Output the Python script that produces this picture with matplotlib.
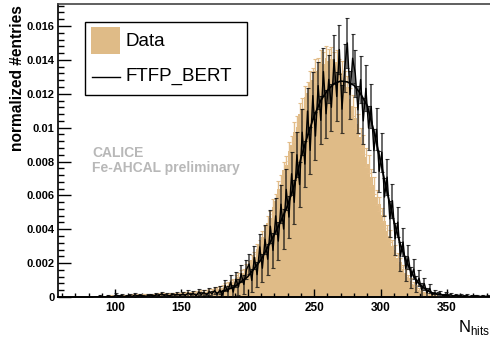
# -*- coding: utf-8 -*-
"""
Number of hits: data vs. FTFP_BERT (CALICE Fe-AHCAL preliminary).
"""

# %% Import modules.
import numpy as np
import matplotlib.pyplot as plt
from matplotlib.patches import Rectangle
from matplotlib.lines import Line2D
from matplotlib.ticker import MultipleLocator, FuncFormatter

plt.rcParams['font.family'] = ['Liberation Sans', 'DejaVu Sans']

# %% Data. All heights in units of 1e-4 (normalized #entries).
bin_width = 2

# Data histogram, first bin starts at N_hits = 84.
data_first_edge = 84
data_vals = [0, 0, 0.3, 0, 0.4, 0.2, 0.5, 0.3, 0.6, 0.4,
             0.7, 0.5, 0.8, 0.6, 0.9, 0.7, 1.0, 0.8, 1.1, 0.9,
             1.2, 1.0, 1.3, 1.1, 1.4, 1.2, 1.5, 1.3, 1.6, 1.4,
             1.7, 1.8, 1.6, 1.9, 2.1, 2.0, 2.3, 2.2, 2.6, 2.5,
             2.9, 3.1, 3.0, 3.6, 3.8, 4.3, 4.5, 5.1, 5.6, 6.6,
             7.1, 8.4, 9.1, 10.7, 11.8, 13.7, 14.1, 16.9, 18.6, 22.0,
             23.8, 28.3, 30.5, 35.6, 38.1, 43.9, 46.8, 53.3, 56.6, 63.5,
             67.0, 74.8, 78.2, 86.1, 89.5, 97.4, 100.6, 108.3, 111.0, 118.2,
             120.5, 126.8, 128.4, 133.6, 134.2, 138.5, 137.6, 141.0, 139.2, 140.8,
             137.5, 138.9, 133.8, 132.2, 126.5, 123.8, 116.9, 113.0, 105.8, 102.1,
             94.2, 90.1, 82.5, 78.3, 70.6, 66.0, 58.8, 54.9, 48.2, 44.6,
             38.7, 35.8, 30.4, 27.6, 23.0, 20.4, 16.5, 14.3, 11.2, 9.5,
             7.0, 5.8, 4.0, 3.3, 2.2, 1.8, 1.1, 0.9, 0.6, 0.4,
             0.3, 0.2, 0.1, 0.1, 0, 0]
data_errs = [0, 0, 0.3, 0, 0.4, 0.3, 0.4, 0.3, 0.5, 0.4,
             0.5, 0.4, 0.5, 0.5, 0.6, 0.5, 0.6, 0.5, 0.6, 0.6,
             0.7, 0.6, 0.7, 0.6, 0.7, 0.7, 0.7, 0.7, 0.8, 0.7,
             0.8, 0.8, 0.8, 0.8, 0.9, 0.8, 0.9, 0.9, 1.0, 0.9,
             1.0, 1.1, 1.0, 1.1, 1.2, 1.2, 1.3, 1.4, 1.4, 1.5,
             1.6, 1.7, 1.8, 2.0, 2.1, 2.2, 2.3, 2.5, 2.6, 2.8,
             2.9, 3.2, 3.3, 3.6, 3.7, 4.0, 4.1, 4.4, 4.5, 4.8,
             4.9, 5.2, 5.3, 5.6, 5.7, 5.9, 6.0, 6.2, 6.3, 6.5,
             6.6, 6.8, 6.8, 6.9, 7.0, 7.1, 7.0, 7.1, 7.1, 7.1,
             7.0, 7.1, 6.9, 6.9, 6.7, 6.7, 6.5, 6.4, 6.2, 6.1,
             5.8, 5.7, 5.5, 5.3, 5.0, 4.9, 4.6, 4.4, 4.2, 4.0,
             3.7, 3.6, 3.3, 3.2, 2.9, 2.7, 2.4, 2.3, 2.0, 1.8,
             1.6, 1.4, 1.2, 1.1, 0.9, 0.8, 0.6, 0.6, 0.5, 0.4,
             0.3, 0.3, 0.2, 0.2, 0, 0]

# FTFP_BERT simulation, first bin centre at N_hits = 85.
mc_first_center = 85
mc_vals = [0, 0, 0.5, 0, 0, 0.6, 0, 0.4, 1.2, 0.5,
           0.8, 0.3, 0.6, 0.9, 0.4, 1.3, 0.7, 1.0, 0.5, 0.4,
           0.9, 1.1, 0.6, 1.4, 0.8, 1.9, 1.0, 1.2, 0.7, 1.5,
           1.1, 1.6, 0.9,
           1.8, 0.9, 2.4, 1.2, 2.1, 0.8, 2.9, 1.5, 2.6, 1.3,
           3.2, 1.9, 3.8, 1.7, 4.1,
           1.2, 6.8, 3.1, 8.9, 2.9, 10.5, 6.0, 13.8, 7.4, 16.2,
           19.5, 9.8, 23.4, 13.2, 29.6, 17.0, 34.1, 22.3, 41.8, 27.5,
           47.9, 33.0, 54.8, 40.1, 63.5, 47.2, 72.8, 55.9, 84.0, 66.4,
           97.3, 78.5, 109.8, 86.6, 118.9, 95.0, 124.8, 104.3, 133.1, 108.2,
           128.5, 112.0, 140.2, 118.4, 146.1, 110.9, 135.0, 150.0, 119.5, 141.0,
           131.8, 110.5, 128.4, 104.0, 123.2, 99.7, 112.5, 86.4, 99.0, 74.2,
           85.5, 59.0, 70.8, 46.1, 56.9, 34.4, 44.2, 24.1, 32.5, 16.8,
           23.6, 11.8, 16.5, 7.6, 11.1, 4.3, 7.9, 2.4, 5.1, 1.3,
           2.5, 1.4, 2.0, 0.9, 1.6, 0.8, 1.3, 0.6, 1.0, 0.5,
           0.7, 0.4, 0.8, 0.3, 0.6, 0.4, 0.5, 0.3, 0.6, 0.2,
           0.4, 0.3]
mc_errs = [0, 0, 0.5, 0, 0, 0.6, 0, 0.4, 0.9, 0.5,
           0.7, 0.3, 0.6, 0.8, 0.4, 0.9, 0.7, 0.8, 0.5, 0.4,
           0.8, 0.9, 0.6, 1.0, 0.7, 1.2, 0.8, 0.9, 0.7, 1.0,
           0.9, 1.1, 0.8,
           1.4, 1.0, 1.6, 1.2, 1.5, 1.0, 1.8, 1.3, 1.7, 1.2,
           2.0, 1.5, 2.2, 1.4, 2.4,
           3.1, 3.4, 3.6, 3.8, 4.1, 4.4, 4.7, 5.1, 5.4, 5.7,
           6.1, 6.6, 7.0, 7.4, 7.8, 8.2, 8.7, 9.2, 9.7, 10.1,
           10.5, 11.0, 11.4, 11.8, 12.2, 12.5, 12.8, 13.0, 13.3, 13.5,
           13.6, 13.6, 13.8, 13.8, 14.0, 14.0, 14.0, 14.2, 14.2, 14.2,
           14.2, 14.0, 14.4, 14.2, 14.4, 14.0, 14.2, 14.6, 14.2, 14.4,
           14.0, 13.8, 13.8, 13.5, 13.5, 13.2, 13.0, 12.6, 12.3, 12.0,
           11.6, 11.2, 10.8, 10.4, 10.0, 9.5, 9.0, 8.5, 8.0, 7.5,
           7.0, 6.2, 5.8, 4.9, 4.7, 3.7, 3.6, 2.8, 2.6, 1.9,
           1.8, 1.3, 1.6, 1.0, 1.4, 1.0, 1.2, 0.8, 1.0, 0.7,
           0.9, 0.6, 0.9, 0.5, 0.8, 0.6, 0.7, 0.5, 0.8, 0.4,
           0.6, 0.5]

# Smooth FTFP_BERT curve.
curve_x = [180, 190, 200, 210, 220, 225, 230, 235, 240, 245, 250, 255, 260,
           265, 270, 275, 280, 285, 290, 295, 300, 305, 310, 315, 320, 325,
           330, 335, 340, 350]
curve_y = [3, 6, 12, 22, 37, 45, 54, 66, 82, 95, 107, 116, 122,
           126, 127.5, 127, 125, 120, 113, 98, 80, 62, 45, 31, 20, 12,
           7, 4, 2, 0.8]

unit = 1e-4
col_data = '#dfbb87'

# %% Plotting.
W, H = 490, 338
fig = plt.figure(figsize=(W / 100, H / 100), dpi=100)


def fx(px):
    return px / W


def fy(py):
    return 1 - py / H


ax = fig.add_axes([fx(58), fy(297), fx(490) - fx(58), fy(4) - fy(297)])

data_edges = data_first_edge + bin_width * np.arange(len(data_vals) + 1)
data_centers = data_edges[:-1] + bin_width / 2
mc_centers = mc_first_center + bin_width * np.arange(len(mc_vals))

ax.stairs(np.array(data_vals) * unit, data_edges, fill=True, color=col_data,
          lw=0, zorder=1)
ax.errorbar(data_centers, np.array(data_vals) * unit,
            yerr=np.array(data_errs) * unit, fmt='none', ecolor='#e3bd8a',
            elinewidth=1, capsize=1.2, capthick=0.8, zorder=2)

ax.errorbar(mc_centers, np.array(mc_vals) * unit, yerr=np.array(mc_errs) * unit,
            fmt='none', ecolor='#111111', elinewidth=1.1, capsize=1.3,
            capthick=0.8, alpha=0.8, zorder=3)
ax.plot(mc_centers, np.array(mc_vals) * unit, color='k', lw=1.0, zorder=4)
ax.plot(curve_x, np.array(curve_y) * unit, color='k', lw=1.2, zorder=5)

ax.set_xlim(57, 382.5)
ax.set_ylim(0, 0.0173)

# Axes style.
ax.spines['right'].set_visible(False)
ax.spines['left'].set_linewidth(1.2)
ax.spines['bottom'].set_linewidth(1.4)
ax.spines['top'].set_linewidth(1.2)
ax.spines['top'].set_color('#444444')

ax.xaxis.set_major_locator(MultipleLocator(50))
ax.xaxis.set_minor_locator(MultipleLocator(10))
ax.yaxis.set_major_locator(MultipleLocator(0.002))
ax.yaxis.set_minor_locator(MultipleLocator(0.0004))
ax.yaxis.set_major_formatter(FuncFormatter(lambda v, p: f'{v:g}'))
ax.tick_params(which='both', direction='in', top=False, right=False)
ax.tick_params(axis='y', which='major', length=9, width=1, pad=2.5,
               labelsize=8)
ax.tick_params(axis='y', which='minor', length=4.5, width=1)
ax.tick_params(axis='x', which='major', length=6, width=1, pad=3.5,
               labelsize=8.5)
ax.tick_params(axis='x', which='minor', length=3, width=1)
for lab in ax.get_xticklabels() + ax.get_yticklabels():
    lab.set_fontweight('bold')

# Axis titles.
fig.text(fx(17), fy(5), 'normalized #entries', rotation=90, ha='center',
         va='top', fontsize=11.2, fontweight='bold')
fig.text(fx(490), fy(332), r'N$_{\mathregular{hits}}$', ha='right',
         va='baseline', fontsize=12)

# Legend.
fig.patches.append(Rectangle((fx(85), fy(95)), fx(247) - fx(85),
                             fy(22) - fy(95), transform=fig.transFigure,
                             facecolor='white', edgecolor='black', lw=1,
                             zorder=10))
fig.patches.append(Rectangle((fx(91), fy(54)), fx(120) - fx(91),
                             fy(27) - fy(54), transform=fig.transFigure,
                             facecolor=col_data, edgecolor='none', zorder=11))
fig.lines.append(Line2D([fx(92), fx(120)], [fy(77), fy(77)],
                        transform=fig.transFigure, color='k', lw=1,
                        zorder=11))
fig.text(fx(125), fy(41), 'Data', ha='left', va='center', fontsize=13.5,
         zorder=12)
fig.text(fx(125), fy(76), 'FTFP_BERT', ha='left', va='center', fontsize=13.5,
         zorder=12)

# Label.
fig.text(fx(92), fy(153), 'CALICE', ha='left', va='center', fontsize=10,
         fontweight='bold', color='#b8b8b8')
fig.text(fx(92), fy(168), 'Fe-AHCAL preliminary', ha='left', va='center',
         fontsize=10, fontweight='bold', color='#b8b8b8')

fig.savefig('out.png', dpi=100)
